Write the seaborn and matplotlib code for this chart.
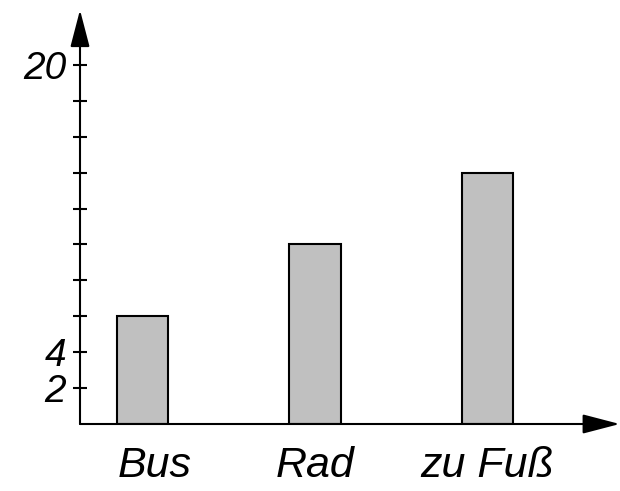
import numpy as np
import pandas as pd
import matplotlib
matplotlib.use("Agg")
import matplotlib.pyplot as plt
import matplotlib.transforms as mtransforms
import seaborn as sns

# data
categories = ["Bus", "Rad", "zu Fuß"]
values = [6, 10, 14]
ytick_values = list(range(2, 21, 2))
ytick_labels = ["2", "4", "", "", "", "", "", "", "", "20"]

sns.set_style("white")
plt.rcParams["font.family"] = ["Liberation Sans", "DejaVu Sans"]
plt.rcParams["text.color"] = "black"
plt.rcParams["xtick.color"] = "black"
plt.rcParams["ytick.color"] = "black"

df = pd.DataFrame({"mode": categories, "value": values})

fig = plt.figure(figsize=(6.2, 4.91), dpi=100)
ax = fig.add_axes([80 / 620, 67 / 491, 537 / 620, 414 / 491])

sns.barplot(data=df, x="mode", y="value", color="#c0c0c0", saturation=1,
            edgecolor="black", linewidth=1.5, width=0.3, ax=ax)

ax.set_xlim(-0.362, 2.751)
ax.set_ylim(0, 23.06)

for side in ["top", "right", "left", "bottom"]:
    ax.spines[side].set_visible(False)

# axes with arrow heads
arrow = dict(arrowstyle="-|>,head_length=2.3,head_width=0.6", lw=1.5,
             color="black", shrinkA=0, shrinkB=0, mutation_scale=10)
ax.annotate("", xy=(1.005, 0), xytext=(0, 0), xycoords="axes fraction", arrowprops=arrow)
ax.annotate("", xy=(0, 1), xytext=(0, 0), xycoords="axes fraction", arrowprops=arrow)

ax.set_yticks(ytick_values)
ax.set_yticklabels(ytick_labels, fontsize=28, fontstyle="italic", color="black")
ax.tick_params(axis="y", direction="inout", length=10, width=1.5, pad=5, left=True,
               colors="black")
ax.tick_params(axis="x", length=0, pad=16, labelsize=31, labelcolor="black")
for lab in ax.get_xticklabels():
    lab.set_fontstyle("italic")
# the "Bus" label sits a little right of its bar in the original
bus = ax.get_xticklabels()[0]
bus.set_transform(bus.get_transform() + mtransforms.ScaledTranslation(0.12, 0, fig.dpi_scale_trans))

ax.set_xlabel("")
ax.set_ylabel("")

fig.savefig("out.png", dpi=100)
